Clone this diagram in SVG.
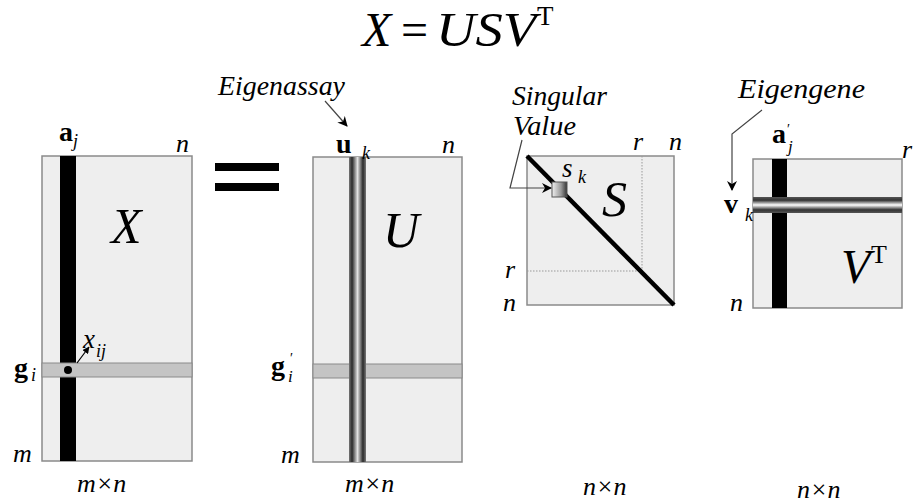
<svg xmlns="http://www.w3.org/2000/svg" width="914" height="503" viewBox="0 0 914 503">
<defs>
<style>
.mat{fill:#eeeeee;stroke:#8a8a8a;stroke-width:1.5}
.row{fill:#c4c4c4;stroke:#8a8a8a;stroke-width:1}
.lead{fill:none;stroke:#444;stroke-width:1.2}
.dot{fill:none;stroke:#999;stroke-width:1;stroke-dasharray:1.5,1.5}
</style>
<linearGradient id="gv" x1="0" y1="0" x2="1" y2="0">
<stop offset="0" stop-color="#777"/><stop offset="0.18" stop-color="#2a2a2a"/><stop offset="0.5" stop-color="#e2e2e2"/><stop offset="0.82" stop-color="#2a2a2a"/><stop offset="1" stop-color="#777"/>
</linearGradient>
<linearGradient id="gh" x1="0" y1="0" x2="0" y2="1">
<stop offset="0" stop-color="#555"/><stop offset="0.2" stop-color="#333"/><stop offset="0.5" stop-color="#ffffff"/><stop offset="0.8" stop-color="#333"/><stop offset="1" stop-color="#555"/>
</linearGradient>
<linearGradient id="gs" x1="0" y1="0" x2="1" y2="0">
<stop offset="0" stop-color="#f0f0f0"/><stop offset="0.6" stop-color="#999"/><stop offset="1" stop-color="#333"/>
</linearGradient>
<marker id="ah" viewBox="0 0 10 10" refX="9" refY="5" markerWidth="7" markerHeight="7" orient="auto" markerUnits="userSpaceOnUse">
<path d="M0,0 L10,5 L0,10 z" fill="#000"/>
</marker>
<marker id="ah2" viewBox="0 0 10 10" refX="9" refY="5" markerWidth="10" markerHeight="10" orient="auto" markerUnits="userSpaceOnUse">
<path d="M0,0 L10,5 L0,10 L3,5 z" fill="#000"/>
</marker>
</defs>
<rect width="914" height="503" fill="#fff"/>

<g id="title">
<text x="362" y="46" font-size="48" font-family="Liberation Serif" font-style="italic">X</text>
<text x="401" y="46" font-size="48" font-family="Liberation Serif">=</text>
<text x="436" y="46" font-size="48" font-family="Liberation Serif" font-style="italic" textLength="100" lengthAdjust="spacingAndGlyphs">USV</text>
<text x="537" y="25" font-size="27" font-family="Liberation Serif">T</text>
</g>

<g id="matrix-X">
<rect class="mat" x="42" y="156" width="150" height="305"/>
<rect x="60" y="156" width="16" height="305" fill="#000"/>
<rect class="row" x="42" y="363" width="150" height="14"/>
<circle cx="68" cy="370" r="4" fill="#000"/>
<text x="111" y="243" font-size="50" font-family="Liberation Serif" font-style="italic">X</text>
<text x="59" y="141" font-size="28" font-family="Liberation Serif" font-weight="bold">a</text>
<text x="73" y="147" font-size="18" font-family="Liberation Serif" font-style="italic">j</text>
<text x="176" y="152" font-size="26" font-family="Liberation Serif" font-style="italic">n</text>
<text x="83" y="348" font-size="27" font-family="Liberation Serif" font-style="italic">x</text>
<text x="96" y="357" font-size="18" font-family="Liberation Serif" font-style="italic">ij</text>
<text x="14" y="377" font-size="28" font-family="Liberation Serif" font-weight="bold">g</text>
<text x="31" y="381" font-size="18" font-family="Liberation Serif" font-style="italic">i</text>
<text x="13" y="462" font-size="26" font-family="Liberation Serif" font-style="italic">m</text>
<text x="77" y="492" font-size="26" font-family="Liberation Serif" font-style="italic">m×n</text>
</g>

<g id="equals">
<rect x="215" y="163" width="64" height="8" fill="#000"/>
<rect x="215" y="183" width="64" height="8" fill="#000"/>
</g>

<g id="matrix-U">
<rect class="mat" x="313" y="157" width="149" height="305"/>
<rect class="row" x="313" y="364" width="149" height="14"/>
<rect x="349" y="157" width="17" height="305" fill="url(#gv)"/>
<text x="383" y="247" font-size="50" font-family="Liberation Serif" font-style="italic">U</text>
<text x="336" y="153" font-size="28" font-family="Liberation Serif" font-weight="bold">u</text>
<text x="362" y="159" font-size="18" font-family="Liberation Serif" font-style="italic">k</text>
<text x="442" y="153" font-size="26" font-family="Liberation Serif" font-style="italic">n</text>
<text x="271" y="375" font-size="28" font-family="Liberation Serif" font-weight="bold">g</text>
<text x="290" y="363" font-size="14" font-family="Liberation Serif">′</text>
<text x="288" y="382" font-size="17" font-family="Liberation Serif" font-style="italic">i</text>
<text x="281" y="463" font-size="26" font-family="Liberation Serif" font-style="italic">m</text>
<text x="345" y="492" font-size="26" font-family="Liberation Serif" font-style="italic">m×n</text>
<text x="218" y="95" font-size="27" font-family="Liberation Serif" font-style="italic" textLength="127" lengthAdjust="spacingAndGlyphs">Eigenassay</text>
</g>

<g id="matrix-S">
<rect class="mat" x="527" y="156" width="147" height="149"/>
<line class="dot" x1="642" y1="156" x2="642" y2="271"/>
<line class="dot" x1="527" y1="271" x2="642" y2="271"/>
<line x1="527" y1="156" x2="674" y2="305" stroke="#000" stroke-width="4.5"/>
<rect x="552" y="182" width="15" height="15" fill="url(#gs)" stroke="#555" stroke-width="1"/>
<text x="602" y="216" font-size="50" font-family="Liberation Serif" font-style="italic">S</text>
<text x="562" y="177" font-size="27" font-family="Liberation Serif" font-style="italic">s</text>
<text x="578" y="183" font-size="18" font-family="Liberation Serif" font-style="italic">k</text>
<text x="633" y="150" font-size="26" font-family="Liberation Serif" font-style="italic">r</text>
<text x="669" y="150" font-size="26" font-family="Liberation Serif" font-style="italic">n</text>
<text x="505" y="278" font-size="26" font-family="Liberation Serif" font-style="italic">r</text>
<text x="503" y="311" font-size="26" font-family="Liberation Serif" font-style="italic">n</text>
<text x="512" y="105" font-size="27" font-family="Liberation Serif" font-style="italic" textLength="95" lengthAdjust="spacingAndGlyphs">Singular</text>
<text x="513" y="135" font-size="27" font-family="Liberation Serif" font-style="italic" textLength="63" lengthAdjust="spacingAndGlyphs">Value</text>
<text x="583" y="495" font-size="26" font-family="Liberation Serif" font-style="italic">n×n</text>
</g>

<g id="matrix-VT">
<rect class="mat" x="753" y="159" width="149" height="149"/>
<rect x="772" y="159" width="15" height="149" fill="#000"/>
<rect x="753" y="197" width="149" height="16" fill="url(#gh)"/>
<text x="841" y="283" font-size="48" font-family="Liberation Serif" font-style="italic">V</text>
<text x="871" y="263" font-size="26" font-family="Liberation Serif">T</text>
<text x="772" y="143" font-size="28" font-family="Liberation Serif" font-weight="bold">a</text>
<text x="787" y="134" font-size="14" font-family="Liberation Serif">′</text>
<text x="788" y="152" font-size="17" font-family="Liberation Serif" font-style="italic">j</text>
<text x="902" y="158" font-size="26" font-family="Liberation Serif" font-style="italic">r</text>
<text x="724" y="213" font-size="28" font-family="Liberation Serif" font-weight="bold">v</text>
<text x="745" y="221" font-size="18" font-family="Liberation Serif" font-style="italic">k</text>
<text x="730" y="311" font-size="26" font-family="Liberation Serif" font-style="italic">n</text>
<text x="738" y="98" font-size="27" font-family="Liberation Serif" font-style="italic" textLength="127" lengthAdjust="spacingAndGlyphs">Eigengene</text>
<text x="797" y="498" font-size="26" font-family="Liberation Serif" font-style="italic">n×n</text>
</g>

<g id="connectors">
<line x1="77" y1="363" x2="89" y2="347" stroke="#000" stroke-width="1.2" marker-end="url(#ah)"/>
<line class="lead" x1="325" y1="101" x2="347" y2="126" marker-end="url(#ah2)"/>
<polyline class="lead" points="522,140 510,188 551,188" marker-end="url(#ah2)"/>
<polyline class="lead" points="762,110 732,134 732,190" marker-end="url(#ah2)"/>
</g>
</svg>
